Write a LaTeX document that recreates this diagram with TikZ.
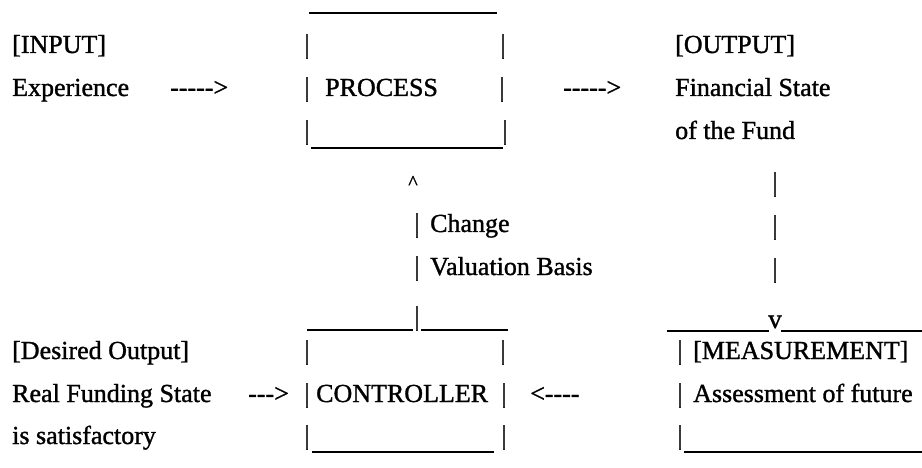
\documentclass[tikz,border=0pt]{standalone}
\usepackage{fontspec}
\setmainfont{Liberation Serif}[FakeBold=1.2]
\begin{document}
\begin{tikzpicture}[x=1pt,y=-1pt,
  txt/.style={anchor=base west,inner sep=0pt,font=\fontsize{26}{30}\selectfont},
  vbar/.style={anchor=base,inner sep=0pt,font=\fontsize{27}{30}\selectfont},
  rule/.style={line width=1.9pt}]
\useasboundingbox (0,0) rectangle (922,468);
% ---- PROCESS box
\coordinate (ptl) at (309,13); \coordinate (ptr) at (497,13);
\draw[rule] (ptl) -- (ptr);
\node[vbar] (p1l) at (307,53) {|};
\node[vbar] (p1r) at (503,53) {|};
\node[vbar] (p2l) at (307,96) {|};
\node[txt]  (process) at (325,96) {PROCESS};
\node[vbar] (p2r) at (502,96) {|};
\node[vbar] (p3l) at (307,139) {|};
\node[vbar] (p3r) at (505,139) {|};
\coordinate (pbl) at (311,148); \coordinate (pbr) at (503,148);
\draw[rule] (pbl) -- (pbr);
% ---- input / output
\node[txt] (input) at (12,53) {[INPUT]};
\node[txt] (exp) at (12,96) {Experience};
\node[txt] (arr1) at (170,96) {-{}-{}-{}-{}->};
\node[txt] (arr2) at (563,96) {-{}-{}-{}-{}->};
\node[txt] (output) at (675,53) {[OUTPUT]};
\node[txt] (fin) at (675,96) {Financial State};
\node[txt] (fund) at (675,139) {of the Fund};
% ---- change valuation basis
\node[vbar,font=\fontsize{20}{22}\selectfont] (caret) at (413,189) {\textasciicircum};
\node[vbar] (c5) at (417,232) {|};
\node[txt] (change) at (430,232) {Change};
\node[vbar] (c6) at (417,275) {|};
\node[txt] (valuation) at (430,275) {Valuation Basis};
% ---- right column
\node[vbar] (r4) at (775,191) {|};
\node[vbar] (r5) at (775,234) {|};
\node[vbar] (r6) at (775,277) {|};
% ---- row 7
\coordinate (ctl) at (307,330); \coordinate (ctm1) at (413,330);
\coordinate (ctm2) at (421,330); \coordinate (ctr) at (508,330);
\draw[rule] (ctl) -- (ctm1);
\draw[rule] (ctm2) -- (ctr);
\node[vbar] (cj) at (417,325) {|};
\node[vbar] (vee) at (775,328) {v};
\coordinate (mtl) at (667,331); \coordinate (mtm1) at (769,331);
\coordinate (mtm2) at (781,331); \coordinate (mtr) at (922,331);
\draw[rule] (mtl) -- (mtm1);
\draw[rule] (mtm2) -- (mtr);
% ---- CONTROLLER box
\node[vbar] (c8l) at (307,359) {|};
\node[vbar] (c8r) at (503,359) {|};
\node[vbar] (c9l) at (307,402) {|};
\node[txt] (controller) at (316,402) {CONTROLLER};
\node[vbar] (c9r) at (504,402) {|};
\node[vbar] (c10l) at (307,444) {|};
\node[vbar] (c10r) at (504,444) {|};
\coordinate (cbl) at (312,452); \coordinate (cbr) at (494,452);
\draw[rule] (cbl) -- (cbr);
% ---- desired output
\node[txt] (desired) at (12,359) {[Desired Output]};
\node[txt] (real) at (12,402) {Real Funding State};
\node[txt] (arr3) at (248,402) {-{}-{}->};
\node[txt] (sat) at (12,444) {is satisfactory};
\node[txt] (arr4) at (530,402) {<-{}-{}-{}-};
% ---- MEASUREMENT box
\node[vbar] (m8) at (680,359) {|};
\node[txt] (meas) at (693,359) {[MEASUREMENT]};
\node[vbar] (m9) at (680,402) {|};
\node[txt] (assess) at (693,402) {Assessment of future};
\node[vbar] (m10) at (680,444) {|};
\coordinate (mbl) at (684,452); \coordinate (mbr) at (922,452);
\draw[rule] (mbl) -- (mbr);
\end{tikzpicture}
\end{document}
